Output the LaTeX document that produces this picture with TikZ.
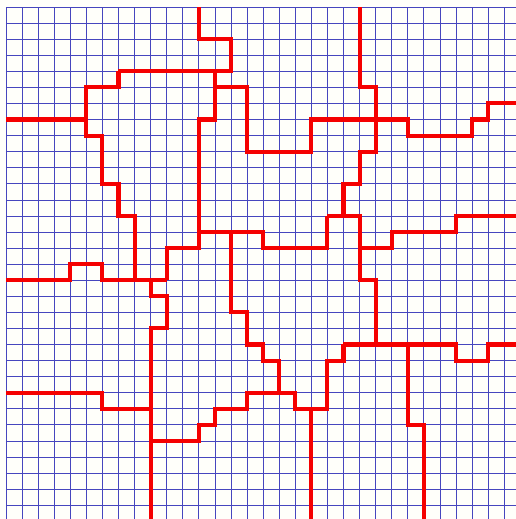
\documentclass[tikz,border=0pt]{standalone}
\usepackage{tikz}
\usetikzlibrary{calc}
\usepackage{xcolor}
\definecolor{gridblue}{RGB}{70,70,190}
\definecolor{cutred}{RGB}{245,0,0}
\definecolor{paper}{RGB}{255,255,250}

\begin{document}
\begin{tikzpicture}[x=0.5cm, y=-0.5cm,
    gridline/.style={gridblue, line width=0.6pt},
    cut/.style={cutred, line width=3.6pt, line join=miter}]
  \fill[paper] (-0.373,-0.436) rectangle (31.736,31.86);
  \useasboundingbox (-0.373,-0.436) rectangle (31.736,31.86);
  % background grid
  \foreach \i in {0,...,31} {
    \draw[gridline] (\i,0) -- (\i,31.86);
    \draw[gridline] (0,\i) -- (31.736,\i);
  }
  % region borders
  \draw[cut] (0,7) -- (5,7);
  \draw[cut] (7,4) -- (7,5) -- (5,5) -- (5,8) -- (6,8) -- (6,11) -- (7,11) -- (7,13) -- (8,13) -- (8,17);
  \draw[cut] (7,4) -- (14,4) -- (14,2) -- (12,2) -- (12,0);
  \draw[cut] (13,4) -- (13,7) -- (12,7) -- (12,15) -- (10,15) -- (10,17);
  \draw[cut] (13,5) -- (15,5) -- (15,9) -- (19,9) -- (19,7) -- (25,7) -- (25,8) -- (29,8) -- (29,7) -- (30,7) -- (30,6) -- (31.736,6);
  \draw[cut] (22,0) -- (22,5) -- (23,5) -- (23,9) -- (22,9) -- (22,11) -- (21,11) -- (21,13);
  \draw[cut] (20,13) -- (22,13) -- (22,17) -- (23,17) -- (23,21);
  \draw[cut] (20,13) -- (20,15) -- (16,15) -- (16,14) -- (12,14);
  \draw[cut] (0,17) -- (4,17) -- (4,16) -- (6,16) -- (6,17) -- (10,17);
  \draw[cut] (9,17) -- (9,18) -- (10,18) -- (10,20) -- (9,20) -- (9,31.86);
  \draw[cut] (14,14) -- (14,19) -- (15,19) -- (15,21) -- (16,21) -- (16,22) -- (17,22) -- (17,24);
  \draw[cut] (22,15) -- (24,15) -- (24,14) -- (28,14) -- (28,13) -- (31.736,13);
  \draw[cut] (21,21) -- (28,21) -- (28,22) -- (30,22) -- (30,21) -- (31.736,21);
  \draw[cut] (21,21) -- (21,22) -- (20,22) -- (20,25) -- (18,25) -- (18,24) -- (15,24) -- (15,25) -- (13,25) -- (13,26) -- (12,26) -- (12,27) -- (9,27);
  \draw[cut] (19,25) -- (19,31.86);
  \draw[cut] (25,21) -- (25,26) -- (26,26) -- (26,31.86);
  \draw[cut] (0,24) -- (6,24) -- (6,25) -- (9,25);
\end{tikzpicture}
\end{document}
